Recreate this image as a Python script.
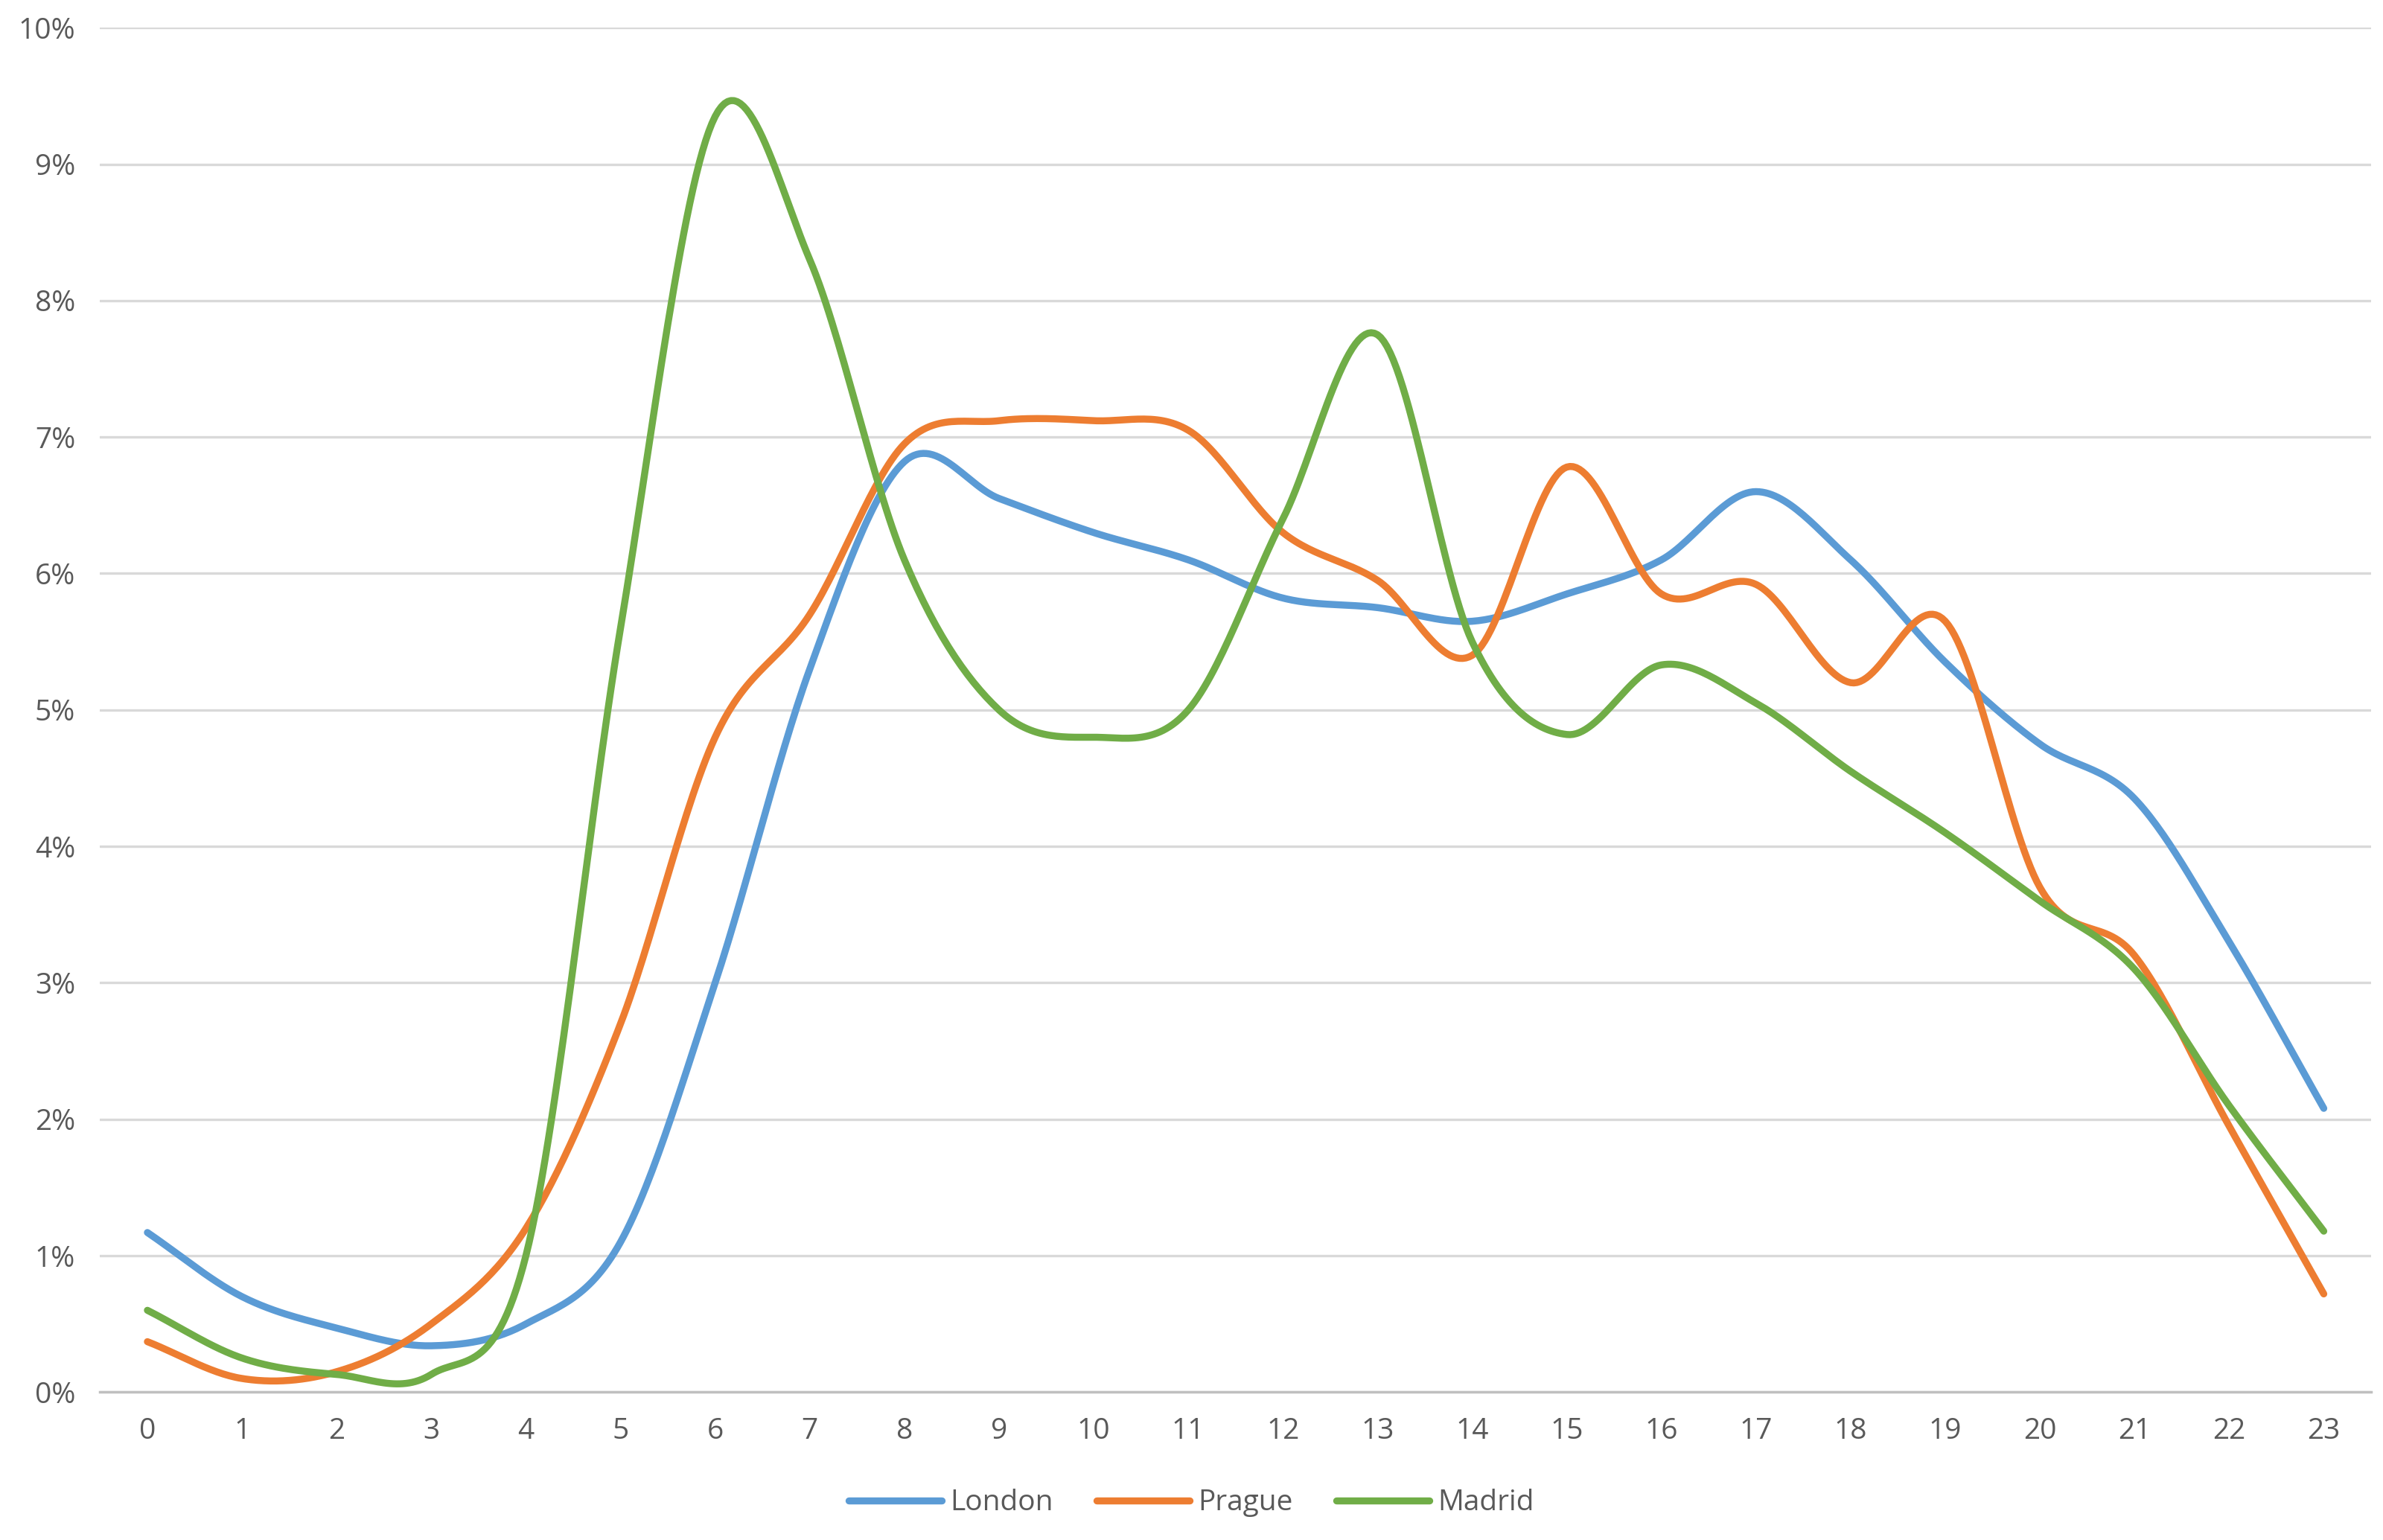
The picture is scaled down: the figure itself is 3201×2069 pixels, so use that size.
import numpy as np, pandas as pd, matplotlib
matplotlib.use("Agg")
import matplotlib.pyplot as plt, seaborn as sns
from matplotlib.ticker import FuncFormatter

hours = list(range(24))
london = [1.17,0.70,0.47,0.34,0.50,1.10,3.00,5.30,6.82,6.55,6.30,6.10,5.82,5.75,5.65,5.85,6.10,6.60,6.10,5.35,4.75,4.35,3.30,2.08]
prague = [0.37,0.10,0.15,0.50,1.20,2.70,4.80,5.70,6.95,7.12,7.12,7.05,6.30,5.95,5.40,6.78,5.85,5.92,5.20,5.65,3.70,3.20,1.95,0.72]
madrid = [0.60,0.25,0.13,0.13,1.00,5.60,9.35,8.30,6.10,5.00,4.80,5.00,6.40,7.75,5.50,4.82,5.33,5.05,4.55,4.10,3.60,3.10,2.10,1.18]
series = {"London": london, "Prague": prague, "Madrid": madrid}
colors = {"London": "#5B9BD5", "Prague": "#ED7D31", "Madrid": "#70AD47"}

def catmull(x, y, n=30):
    x = np.asarray(x, float); y = np.asarray(y, float)
    P = np.column_stack([x, y])
    P = np.vstack([P[0] - (P[1] - P[0]), P, P[-1] + (P[-1] - P[-2])])
    out = []
    t = np.linspace(0, 1, n, endpoint=False)[:, None]
    for i in range(1, len(P) - 2):
        p0, p1, p2, p3 = P[i-1], P[i], P[i+1], P[i+2]
        seg = 0.5 * ((2*p1) + (-p0 + p2)*t + (2*p0 - 5*p1 + 4*p2 - p3)*t**2 + (-p0 + 3*p1 - 3*p2 + p3)*t**3)
        out.append(seg)
    out.append(P[-2][None, :])
    return np.vstack(out)

rows = []
for name, vals in series.items():
    c = catmull(hours, vals)
    for xx, yy in c:
        rows.append((name, xx, yy / 100))
df = pd.DataFrame(rows, columns=["city", "hour", "share"])

sns.set_theme(style="white")
plt.rcParams["font.family"] = ["Open Sans", "DejaVu Sans"]
fig = plt.figure(figsize=(16.005, 10.345), dpi=200)
ax = fig.add_axes([0.042, 0.096, 0.953, 0.886])
sns.lineplot(data=df, x="hour", y="share", hue="city", estimator=None,
             sort=False, palette=colors, linewidth=3.4, ax=ax, legend=False)
for name in series:
    ax.plot([], [], color=colors[name], lw=3.4, label=name, solid_capstyle="round")
ax.set_xlim(-0.5, 23.5)
ax.set_ylim(0, 0.10)
ax.set_xticks(hours)
ax.set_yticks(np.arange(0, 0.101, 0.01))
ax.yaxis.set_major_formatter(FuncFormatter(lambda v, p: f"{v*100:.0f}%"))
ax.grid(axis="y", color="#D9D9D9", lw=1.2)
for s in ["top", "right", "left"]:
    ax.spines[s].set_visible(False)
ax.spines["bottom"].set_color("#BFBFBF")
ax.tick_params(axis="both", colors="#595959", labelsize=14, length=0, pad=12)
ax.set_xlabel(""); ax.set_ylabel("")
fig.legend(loc="lower center", ncol=3, frameon=False, fontsize=14, bbox_to_anchor=(0.5, -0.002),
           handlelength=3.2, columnspacing=1.5, handletextpad=0.3, labelcolor="#595959")
fig.savefig("out.png", dpi=200, facecolor="white")
